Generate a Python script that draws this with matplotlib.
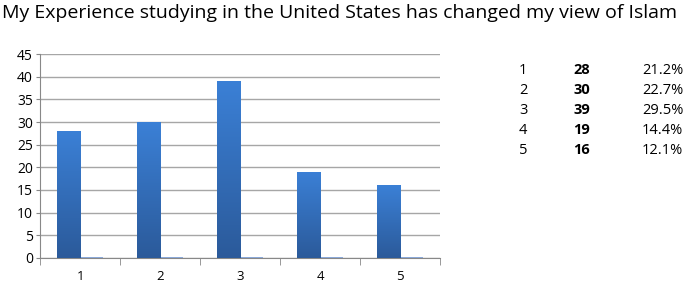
import numpy as np
import matplotlib
matplotlib.use("Agg")
import matplotlib.pyplot as plt

categories = ["1", "2", "3", "4", "5"]
counts = [28, 30, 39, 19, 16]
second_series = [0.15, 0.15, 0.15, 0.15, 0.15]
percents = ["21.2%", "22.7%", "29.5%", "14.4%", "12.1%"]

plt.rcParams['font.family'] = ['Open Sans', 'DejaVu Sans']

fig = plt.figure(figsize=(6.83, 2.86), dpi=100)
ax = fig.add_axes([0.0586, 0.098, 0.586, 0.713])

x = np.arange(1, len(categories) + 1)
w = 0.29
bars = ax.bar(x - w / 2, counts, width=w, color="#3474c6", zorder=3)
ax.bar(x + w / 2, second_series, width=w, color="#8aa8d8", zorder=3)

# vertical gradient in the main bars
grad = np.linspace(0, 1, 256).reshape(-1, 1)
cmap = matplotlib.colors.LinearSegmentedColormap.from_list("g", ["#2b5a9a", "#3b80d6"])
for b in bars:
    im = ax.imshow(grad, cmap=cmap, origin="lower", aspect="auto",
                   extent=[b.get_x(), b.get_x() + b.get_width(), 0, b.get_height()], zorder=3)
    im.set_clip_path(b)

ax.set_xlim(0.5, 5.5)
ax.set_ylim(0, 45)
ax.set_yticks(range(0, 46, 5))
ax.set_xticks(x)
ax.set_xticklabels(categories)
ax.set_xticks(np.arange(0.5, 5.6, 1), minor=True)
ax.tick_params(axis="x", which="major", length=0, pad=9, labelsize=9.5)
ax.tick_params(axis="x", which="minor", length=5, color="#888888")
ax.tick_params(axis="y", length=3, color="#888888", labelsize=10, pad=2)
ax.grid(axis="y", color="#a6a6a6", linewidth=1, zorder=0)
for s in ["top", "right"]:
    ax.spines[s].set_visible(False)
for s in ["left", "bottom"]:
    ax.spines[s].set_color("#888888")

fig.text(0.003, 0.955, "My Experience studying in the United States has changed my view of Islam",
         fontsize=14, va="center", ha="left")

row_y = [0.755, 0.685, 0.615, 0.545, 0.475]
for i in range(len(categories)):
    fig.text(0.760, row_y[i], categories[i], fontsize=10.5, va="center")
    fig.text(0.839, row_y[i], str(counts[i]), fontsize=10.5, va="center", fontweight="bold")
    fig.text(0.940, row_y[i], percents[i], fontsize=10.5, va="center")

fig.savefig("out.png", dpi=100)
